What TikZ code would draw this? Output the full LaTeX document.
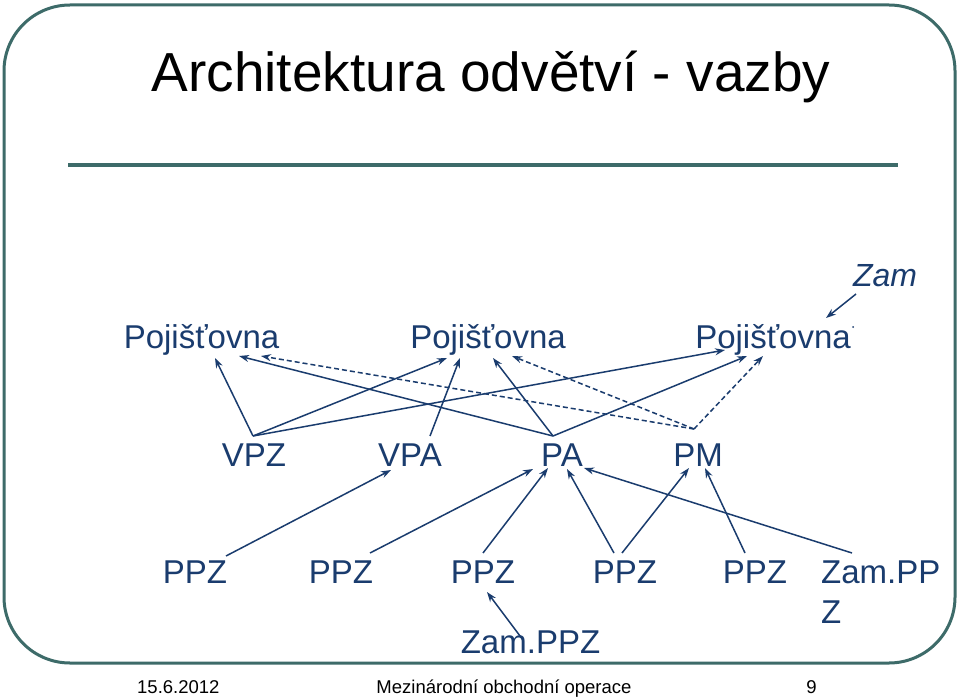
\documentclass[tikz,border=0pt]{standalone}
\usepackage{fontspec}
\setmainfont{Liberation Sans}
\usetikzlibrary{arrows.meta}
\definecolor{txtblue}{HTML}{1A3C6E}
\definecolor{framecol}{HTML}{3D6B69}
\begin{document}
\begin{tikzpicture}[x=1pt,y=-1pt,
  lbl/.style={inner sep=0pt, anchor=base, text=txtblue, font=\fontsize{33}{40}\selectfont},
  foot/.style={inner sep=0pt, anchor=base, text=black, font=\fontsize{18.5}{22}\selectfont},
  arr/.style={draw=txtblue, line width=1.5pt, -{Stealth[length=10pt,width=7pt]}},
  darr/.style={arr, dash pattern=on 5pt off 3pt}]
\useasboundingbox (0,0) rectangle (960,700);
\fill[white] (0,0) rectangle (960,700);
% frame and rule
\draw[framecol, line width=3pt, rounded corners=66pt] (4,5) rectangle (955,663);
\draw[framecol, line width=4pt] (68,165) -- (898,165);
% title
\node[inner sep=0pt, anchor=base, font=\fontsize{55}{66}\selectfont] (title) at (491,92) {Architektura odvětví - vazby};
% nodes
\node[lbl] (poj1) at (201.5,348) {Pojišťovna};
\node[lbl] (poj2) at (488,348) {Pojišťovna};
\node[lbl] (poj3) at (773,348) {Pojišťovna};
\fill[txtblue] (853,327) circle (1pt);
\node[lbl, font=\itshape\fontsize{32}{38}\selectfont] (zam) at (885,287) {Zam};
\node[lbl] (vpz) at (254,466) {VPZ};
\node[lbl] (vpa) at (410,466) {VPA};
\node[lbl] (pa) at (562,466) {PA};
\node[lbl] (pm) at (698,466) {PM};
\node[lbl] (ppz1) at (195,583) {PPZ};
\node[lbl] (ppz2) at (341,583) {PPZ};
\node[lbl] (ppz3) at (483,583) {PPZ};
\node[lbl] (ppz4) at (625,583) {PPZ};
\node[lbl] (ppz5) at (755,583) {PPZ};
\node[lbl, anchor=base west] (zamr) at (821,583) {Zam.PP};
\node[lbl, anchor=base west] (zamrz) at (821,623) {Z};
\node[lbl] (zamb) at (530.5,653) {Zam.PPZ};
% footer
\node[foot, anchor=base west] (date) at (137,693) {15.6.2012};
\node[foot] (ftitle) at (504,693) {Mezinárodní obchodní operace};
\node[foot] (page) at (811.5,693) {9};
% connection points
\coordinate (vpzT) at (253,436);
\coordinate (vpaT) at (430,436);
\coordinate (paT) at (553,436);
\coordinate (pmT) at (694,429);
\coordinate (p1a) at (215,358);
\coordinate (p1b) at (239,356);
\coordinate (p1c) at (261,356);
\coordinate (p2a) at (447,358);
\coordinate (p2b) at (460,358);
\coordinate (p2c) at (493,358);
\coordinate (p2d) at (512,356);
\coordinate (p3a) at (725,350);
\coordinate (p3b) at (747,356);
\coordinate (p3c) at (763,356);
\coordinate (zamS) at (856,294);
\coordinate (zamE) at (826,318);
% top connectors
\draw[arr] (vpzT) -- (p1a);
\draw[arr] (vpzT) -- (p2a);
\draw[arr] (vpzT) -- (p3a);
\draw[arr] (vpaT) -- (p2b);
\draw[arr] (paT) -- (p1b);
\draw[arr] (paT) -- (p2c);
\draw[arr] (paT) -- (p3b);
\draw[darr] (pmT) -- (p1c);
\draw[darr] (pmT) -- (p2d);
\draw[darr] (pmT) -- (p3c);
\draw[arr] (zamS) -- (zamE);
% bottom connection points
\coordinate (b1) at (226,556);
\coordinate (b2) at (370,553);
\coordinate (b3) at (483,553);
\coordinate (b4) at (614,553);
\coordinate (b4b) at (622,553);
\coordinate (b5) at (745,553);
\coordinate (b6) at (852,553);
\coordinate (bz) at (523,640);
\coordinate (tVpa) at (391,470);
\coordinate (tPa1) at (533,469);
\coordinate (tPa2) at (548,468);
\coordinate (tPa3) at (567,469);
\coordinate (tPa4) at (584,468);
\coordinate (tPm1) at (689,468);
\coordinate (tPm2) at (705,468);
\coordinate (tPpz3) at (487,592);
% bottom connectors
\draw[arr] (b1) -- (tVpa);
\draw[arr] (b2) -- (tPa1);
\draw[arr] (b3) -- (tPa2);
\draw[arr] (b4) -- (tPa3);
\draw[arr] (b4b) -- (tPm1);
\draw[arr] (b5) -- (tPm2);
\draw[arr] (b6) -- (tPa4);
\draw[arr] (bz) -- (tPpz3);
\end{tikzpicture}
\end{document}
